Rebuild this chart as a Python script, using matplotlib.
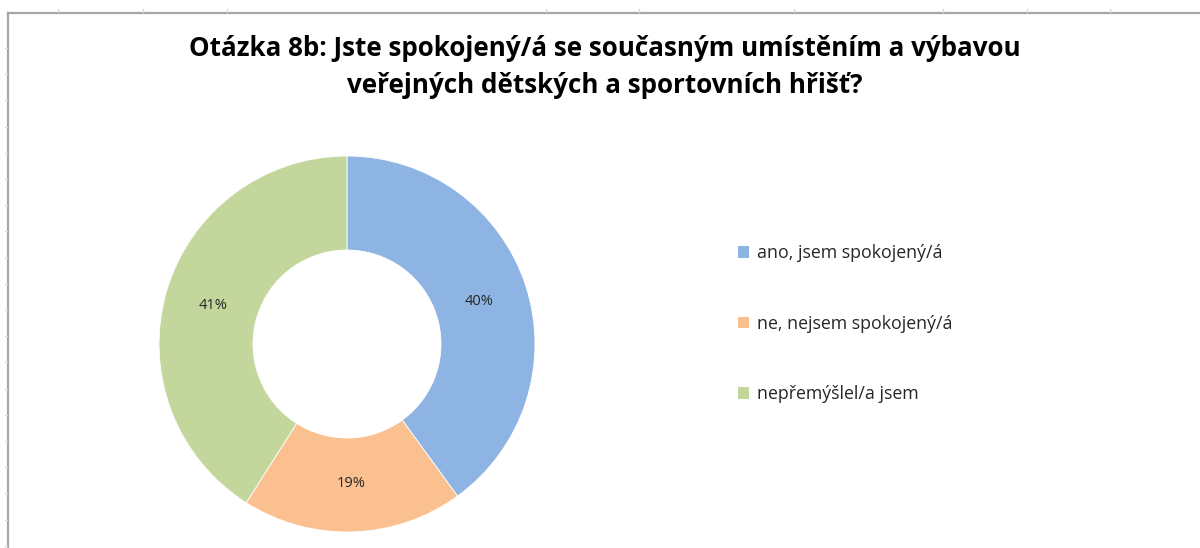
import matplotlib
matplotlib.use("Agg")
import matplotlib.pyplot as plt
from matplotlib.patches import Patch
from matplotlib.lines import Line2D
import numpy as np

# ---- data ----
categories = ["ano, jsem spokojený/á", "ne, nejsem spokojený/á", "nepřemýšlel/a jsem"]
values = [40, 19, 41]
colors = ["#8EB4E3", "#FAC090", "#C3D69B"]
title = "Otázka 8b: Jste spokojený/á se současným umístěním a výbavou\nveřejných dětských a sportovních hřišť?"

W, H = 1200, 548
fig = plt.figure(figsize=(W / 100, H / 100), dpi=100)
fig.patch.set_facecolor("white")

def fx(px):
    return px / W

def fy(py):
    return 1 - py / H

# spreadsheet decoration: frame and faint grid ticks
frame_col = "#A6A6A6"
fig.add_artist(Line2D([fx(8), fx(8)], [fy(13), fy(548)], color=frame_col, lw=1.6))
fig.add_artist(Line2D([fx(8), fx(1200)], [fy(13), fy(13)], color=frame_col, lw=1.6))
for cx in [58, 143, 227, 546, 639, 794, 943, 1027, 1110]:
    fig.add_artist(Line2D([fx(cx), fx(cx)], [fy(9), fy(12)], color="#D3D7E6", lw=1))
for ry in np.arange(48, 548, 26.2):
    fig.add_artist(Line2D([fx(5), fx(7)], [fy(ry), fy(ry)], color="#D3D7E6", lw=1))

# ---- donut ----
cx, cy, R = 347, 344, 188
ax = fig.add_axes([fx(cx - R), fy(cy + R), 2 * R / W, 2 * R / H])
wedges, texts, autotexts = ax.pie(
    values,
    colors=colors,
    startangle=90,
    counterclock=False,
    radius=1.0,
    wedgeprops=dict(width=0.5, edgecolor="white", linewidth=0.6),
    autopct=lambda p: f"{p:.0f}%",
    pctdistance=0.74,
    textprops=dict(fontsize=10.5, color="#262626", family=["Open Sans", "DejaVu Sans"]),
)
ax.set_xlim(-1, 1)
ax.set_ylim(-1, 1)
ax.set_aspect("equal")
ax.axis("off")

# ---- title ----
fig.text(fx(605), fy(67), title, ha="center", va="center", fontsize=18.7,
         fontweight="bold", color="black", family=["Open Sans", "DejaVu Sans"],
         linespacing=1.5)

# ---- legend ----
handles = [Patch(facecolor=c, edgecolor="none") for c in colors]
fig.legend(handles, categories, loc="upper left",
           bbox_to_anchor=(fx(738), fy(244)), frameon=False,
           handlelength=0.62, handleheight=0.62, handletextpad=0.45,
           labelspacing=2.96, borderpad=0, borderaxespad=0,
           prop=dict(family=["Open Sans", "DejaVu Sans"], size=12.8),
           labelcolor="#262626")

fig.savefig("out.png", dpi=100, facecolor="white")
